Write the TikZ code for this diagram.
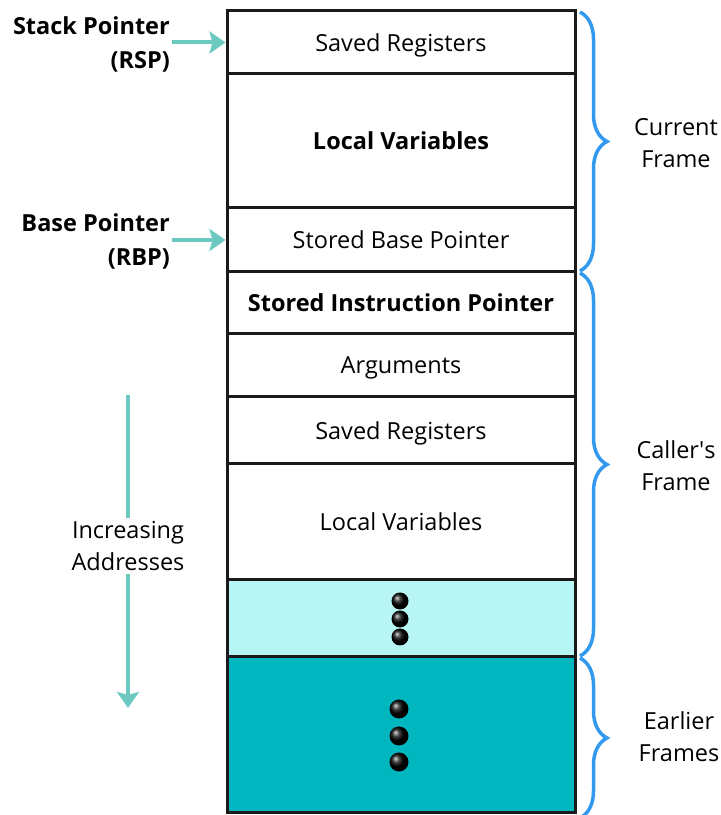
\documentclass[tikz,border=0pt]{standalone}
\usepackage{fontspec}
\setmainfont{Open Sans}
\usetikzlibrary{arrows.meta,decorations.pathreplacing}
\definecolor{lightcy}{HTML}{B8F5F5}
\definecolor{darkteal}{HTML}{00B6BF}
\definecolor{arrteal}{HTML}{6CC9C0}
\definecolor{braceblue}{HTML}{3399EE}
\definecolor{boxline}{HTML}{1A1A1A}
\begin{document}
\begin{tikzpicture}[x=1pt,y=1pt,
  every node/.style={font=\fontsize{23.5}{32}\selectfont},
  cell/.style={draw=boxline,line width=3pt,minimum width=348pt,inner sep=0pt,text depth=0pt,anchor=center},
  ptr/.style={draw=arrteal,line width=4pt,-{Stealth[length=16pt,width=22pt,inset=3pt]}},
  frbrace/.style={draw=braceblue,line width=3.5pt,decorate,decoration={brace,amplitude=27pt}},
  lbl/.style={align=center,inner sep=0pt}]
\useasboundingbox (0,0) rectangle (721,815);
\node[cell,minimum height=63pt] (r1) at (401,772.5) {Saved Registers};
\node[cell,minimum height=134pt] (r2) at (401,674) {\bfseries Local Variables};
\node[cell,minimum height=64pt] (r3) at (401,575) {Stored Base Pointer};
\node[cell,minimum height=62pt] (r4) at (401,512) {\bfseries Stored Instruction Pointer};
\node[cell,minimum height=63pt] (r5) at (401,449.5) {Arguments};
\node[cell,minimum height=67pt] (r6) at (401,384.5) {Saved Registers};
\node[cell,minimum height=116pt] (r7) at (401,293) {Local Variables};
\node[cell,fill=lightcy,minimum height=77pt] (r8) at (401,196.5) {};
\node[cell,fill=darkteal,minimum height=156pt] (r9) at (401,80) {};
\foreach \yy in {214,196,178} \shade[ball color=black] (400,\yy) circle (8.5pt);
\foreach \yy in {106,79,53} \shade[ball color=black] (399,\yy) circle (9.5pt);
% pointers
\node[align=right,inner sep=0pt,anchor=east,font=\fontsize{23.5}{34}\selectfont\bfseries] (rsp) at (170,771) {Stack Pointer\\(RSP)};
\node[align=right,inner sep=0pt,anchor=east,font=\fontsize{23.5}{34}\selectfont\bfseries] (rbp) at (170,573.5) {Base Pointer\\(RBP)};
\draw[ptr] (rsp.east |- r1.west) ++(2,0) coordinate (a1) (a1) -- (r1.west);
\draw[ptr] (rbp.east |- r3.west) ++(2,0) coordinate (a2) (a2) -- (r3.west);
% increasing addresses
\node[lbl,inner sep=3pt] (inc) at (128,269) {Increasing\\Addresses};
\coordinate (incTop) at (128,420);
\coordinate (incBot) at (128,107);
\draw[draw=arrteal,line width=4pt] (incTop) -- (inc.north);
\draw[ptr] (inc.south) -- (incBot);
% braces
\coordinate (b1t) at (580,803);
\coordinate (b1b) at (580,544);
\coordinate (b2t) at (580,542);
\coordinate (b2b) at (580,159);
\coordinate (b3t) at (580,157);
\coordinate (b3b) at (580,-3);
\draw[frbrace] (b1t) -- (b1b);
\draw[frbrace] (b2t) -- (b2b);
\draw[frbrace] (b3t) -- (b3b);
\node[lbl] (cur) at (676,672) {Current\\Frame};
\node[lbl] (cal) at (676,349) {Caller\textquotesingle s\\Frame};
\node[lbl] (ear) at (679,78) {Earlier\\Frames};
\end{tikzpicture}
\end{document}
